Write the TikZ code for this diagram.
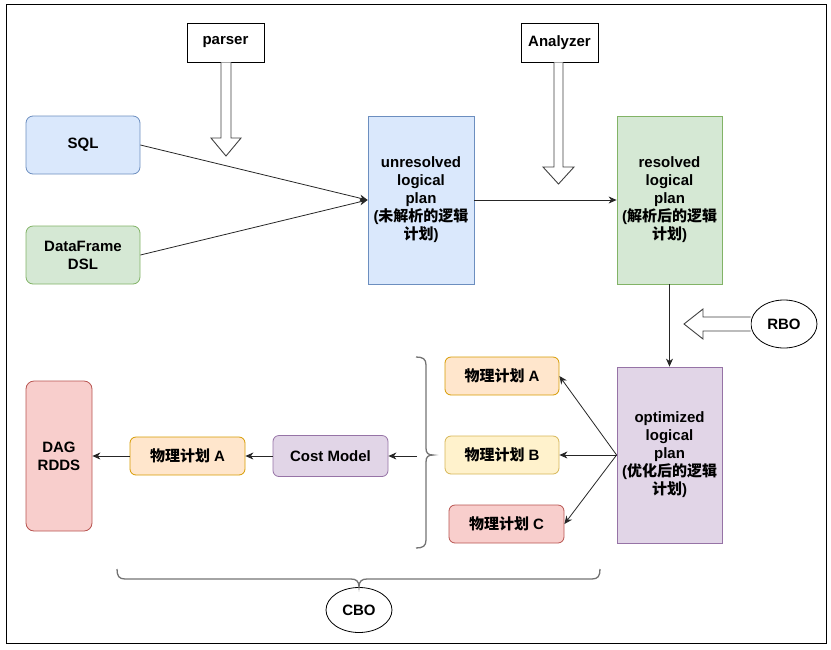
\documentclass[tikz,border=0pt]{standalone}
\usepackage{fontspec}
\setmainfont{Liberation Sans}
\newfontfamily\cjk{Noto Sans CJK SC}
\usetikzlibrary{arrows.meta,shapes.geometric}
\definecolor{bluef}{HTML}{DAE8FC}\definecolor{blued}{HTML}{6C8EBF}
\definecolor{greenf}{HTML}{D5E8D4}\definecolor{greend}{HTML}{82B366}
\definecolor{purpf}{HTML}{E1D5E7}\definecolor{purpd}{HTML}{9673A6}
\definecolor{orf}{HTML}{FFE6CC}\definecolor{ord}{HTML}{D79B00}
\definecolor{yelf}{HTML}{FFF2CC}\definecolor{yeld}{HTML}{D6B656}
\definecolor{redf}{HTML}{F8CECC}\definecolor{redd}{HTML}{B85450}
\tikzset{
  nd/.style={rectangle, draw, line width=0.8pt, inner sep=0pt, align=center,
    font=\fontsize{15}{18}\selectfont\bfseries},
  rnd/.style={nd, rounded corners=7pt},
  bluebox/.style={fill=bluef, draw=blued},
  greenbox/.style={fill=greenf, draw=greend},
  purpbox/.style={fill=purpf, draw=purpd},
  orbox/.style={fill=orf, draw=ord},
  yelbox/.style={fill=yelf, draw=yeld},
  redbox/.style={fill=redf, draw=redd},
  conn/.style={draw=black!85, line width=0.8pt, -{Stealth[length=8pt,width=7pt,inset=2.5pt]}},
  hollow/.style={draw=black!75, line width=0.9pt, fill=white, line join=miter},
  bracesty/.style={draw=black!55, line width=1.3pt},
}
\begin{document}
\begin{tikzpicture}[x=1pt,y=-1pt]
\useasboundingbox (0,0) rectangle (831,649);
\draw[line width=1pt] (6,4) rectangle (826,643);

% top labels
\node[nd, fill=white, minimum width=77pt, minimum height=39pt] (parser) at (225.5,42.5) {parser};
\node[nd, fill=white, minimum width=77pt, minimum height=39pt] (analyzer) at (559.5,42.5) {Analyzer};

% inputs
\node[rnd, bluebox, minimum width=114pt, minimum height=58pt] (sql) at (83,145) {SQL};
\node[rnd, greenbox, minimum width=114pt, minimum height=58pt] (dsl) at (83,255) {DataFrame\\DSL};

% logical plans
\node[nd, bluebox, minimum width=106pt, minimum height=168pt] (unres) at (421,200)
  {unresolved\\logical\\plan\\({\cjk 未解析的逻辑}\\{\cjk 计划})};
\node[nd, greenbox, minimum width=105pt, minimum height=168pt] (res) at (669.5,200)
  {resolved\\logical\\plan\\({\cjk 解析后的逻辑}\\{\cjk 计划})};
\node[nd, purpbox, minimum width=105pt, minimum height=176pt] (opt) at (669.5,455)
  {optimized\\logical\\plan\\({\cjk 优化后的逻辑}\\{\cjk 计划})};

% physical plans
\node[rnd, orbox, rounded corners=6pt, minimum width=114pt, minimum height=38pt] (pa) at (502,376) {{\cjk 物理计划} A};
\node[rnd, yelbox, rounded corners=6pt, minimum width=114pt, minimum height=38pt] (pb) at (502,455) {{\cjk 物理计划} B};
\node[rnd, redbox, rounded corners=6pt, minimum width=115pt, minimum height=38pt] (pc) at (506.5,524) {{\cjk 物理计划} C};

\node[rnd, purpbox, rounded corners=6pt, minimum width=115pt, minimum height=41pt] (cost) at (330.5,456) {Cost Model};
\node[rnd, orbox, rounded corners=6pt, minimum width=115pt, minimum height=38pt] (pa2) at (187.5,456) {{\cjk 物理计划} A};
\node[rnd, redbox, rounded corners=8pt, minimum width=66pt, minimum height=150pt] (dag) at (59,456) {DAG\\RDDS};

% ellipses
\node[nd, ellipse, fill=white, minimum width=66pt, minimum height=48pt] (rbo) at (784,324) {RBO};
\node[nd, ellipse, fill=white, minimum width=66pt, minimum height=45pt] (cbo) at (359,610) {CBO};

% hollow arrows
\draw[hollow] (parser.south -| 221,0) -- (221,138) -- (211,138) -- (226,156) -- (241,138) -- (231,138) -- (parser.south -| 231,0);
\draw[hollow] (analyzer.south -| 554,0) -- (554,167) -- (543,167) -- (558.5,184) -- (574,167) -- (563,167) -- (analyzer.south -| 563,0);
\draw[hollow] (rbo.west |- 0,317) -- (703,317) -- (703,309) -- (684,324) -- (703,339) -- (703,331) -- (rbo.west |- 0,331);

% connectors
\draw[conn] (sql.east) -- (unres.west);
\draw[conn] (dsl.east) -- (unres.west);
\draw[conn] (unres.east) -- (res.west);
\draw[conn] (res.south) -- (opt.north);
\draw[conn] (opt.west) -- (pa.east);
\draw[conn] (opt.west) -- (pb.east);
\draw[conn] (opt.west) -- (pc.east);
\coordinate (brl) at (417,456);
\draw[conn] (brl) -- (cost.east);
\draw[conn] (cost.west) -- (pa2.east);
\draw[conn] (pa2.west) -- (dag.east);

% braces
\draw[bracesty] (416,357) .. controls (423,357) and (426,359) .. (426,365) -- (426,448)
  .. controls (426,453) and (428,455) .. (433,455)
  .. controls (428,455) and (426,457) .. (426,462) -- (426,540)
  .. controls (426,546) and (423,548) .. (416,548);
\draw[bracesty] (117,569) .. controls (117,576) and (119,579) .. (125,579) -- (351,579)
  .. controls (356,579) and (359,581) .. (359,587)
  .. controls (359,581) and (362,579) .. (367,579) -- (592,579)
  .. controls (598,579) and (600,576) .. (600,569);
\end{tikzpicture}
\end{document}
